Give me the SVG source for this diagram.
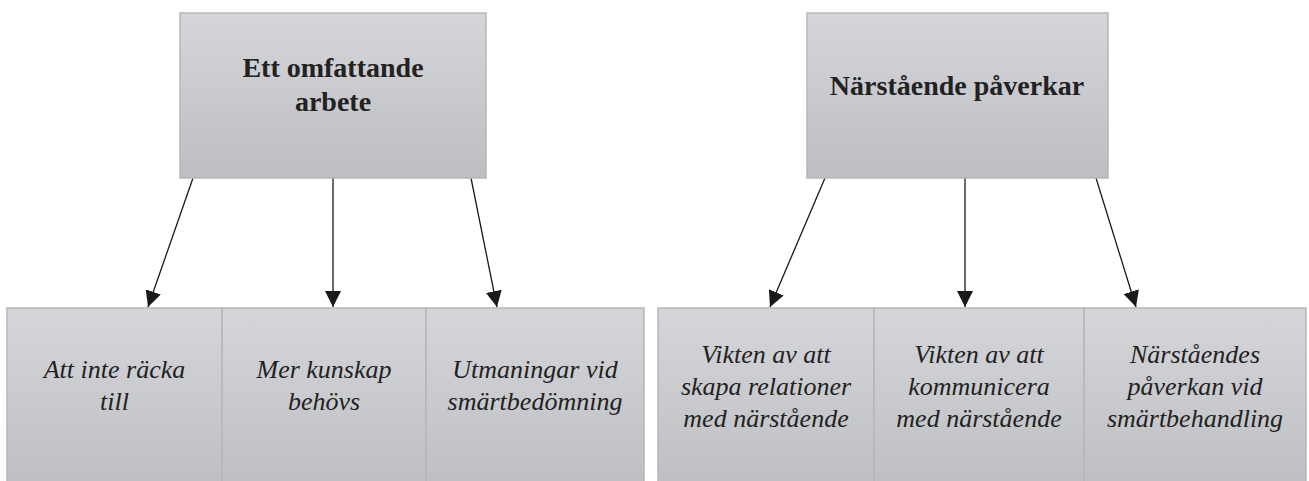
<svg xmlns="http://www.w3.org/2000/svg" width="1309" height="481" viewBox="0 0 1309 481">
<defs>
<linearGradient id="g" x1="0" y1="0" x2="0" y2="1">
<stop offset="0" stop-color="#d5d6d9"/>
<stop offset="1" stop-color="#bdbec1"/>
</linearGradient>
<marker id="ah" viewBox="0 0 10 10" refX="10" refY="5" markerWidth="16" markerHeight="16" markerUnits="userSpaceOnUse" orient="auto">
<path d="M0,0 L10,5 L0,10 z" fill="#1a1a1a"/>
</marker>
</defs>
<g id="connectors" stroke="#1a1a1a" stroke-width="1.3" fill="none" marker-end="url(#ah)">
<line x1="193" y1="178" x2="148" y2="307"/>
<line x1="333" y1="178" x2="333" y2="307"/>
<line x1="471" y1="178" x2="497" y2="307"/>
<line x1="825" y1="178" x2="770" y2="307"/>
<line x1="965" y1="178" x2="965" y2="307"/>
<line x1="1096" y1="178" x2="1136" y2="307"/>
</g>
<g fill="url(#g)" stroke="#b5b6b8" stroke-width="1.5">
<rect id="n1" x="180" y="13" width="306" height="165"/>
<rect id="n2" x="807" y="13" width="301" height="165"/>
<rect id="n3" x="7" y="308" width="215" height="185"/>
<rect id="n4" x="222" y="308" width="204" height="185"/>
<rect id="n5" x="426" y="308" width="218" height="185"/>
<rect id="n6" x="658" y="308" width="216" height="185"/>
<rect id="n7" x="874" y="308" width="210" height="185"/>
<rect id="n8" x="1084" y="308" width="222" height="185"/>
</g>
<text x="333" y="77" font-family="Times New Roman, Liberation Serif, serif" font-size="28" font-weight="bold" fill="#222" text-anchor="middle">Ett omfattande</text>
<text x="333" y="111" font-family="Times New Roman, Liberation Serif, serif" font-size="28" font-weight="bold" fill="#222" text-anchor="middle">arbete</text>
<text x="957" y="95" font-family="Times New Roman, Liberation Serif, serif" font-size="28" font-weight="bold" fill="#222" text-anchor="middle">N&#228;rst&#229;ende p&#229;verkar</text>
<text x="114.5" y="378" font-family="Times New Roman, Liberation Serif, serif" font-size="26" font-style="italic" fill="#222" text-anchor="middle">Att inte r&#228;cka</text>
<text x="114.5" y="410" font-family="Times New Roman, Liberation Serif, serif" font-size="26" font-style="italic" fill="#222" text-anchor="middle">till</text>
<text x="324" y="378" font-family="Times New Roman, Liberation Serif, serif" font-size="26" font-style="italic" fill="#222" text-anchor="middle">Mer kunskap</text>
<text x="324" y="410" font-family="Times New Roman, Liberation Serif, serif" font-size="26" font-style="italic" fill="#222" text-anchor="middle">beh&#246;vs</text>
<text x="535" y="378" font-family="Times New Roman, Liberation Serif, serif" font-size="26" font-style="italic" fill="#222" text-anchor="middle">Utmaningar vid</text>
<text x="535" y="410" font-family="Times New Roman, Liberation Serif, serif" font-size="26" font-style="italic" fill="#222" text-anchor="middle">sm&#228;rtbed&#246;mning</text>
<text x="766" y="363" font-family="Times New Roman, Liberation Serif, serif" font-size="26" font-style="italic" fill="#222" text-anchor="middle">Vikten av att</text>
<text x="766" y="395" font-family="Times New Roman, Liberation Serif, serif" font-size="26" font-style="italic" fill="#222" text-anchor="middle">skapa relationer</text>
<text x="766" y="427" font-family="Times New Roman, Liberation Serif, serif" font-size="26" font-style="italic" fill="#222" text-anchor="middle">med n&#228;rst&#229;ende</text>
<text x="979" y="363" font-family="Times New Roman, Liberation Serif, serif" font-size="26" font-style="italic" fill="#222" text-anchor="middle">Vikten av att</text>
<text x="979" y="395" font-family="Times New Roman, Liberation Serif, serif" font-size="26" font-style="italic" fill="#222" text-anchor="middle">kommunicera</text>
<text x="979" y="427" font-family="Times New Roman, Liberation Serif, serif" font-size="26" font-style="italic" fill="#222" text-anchor="middle">med n&#228;rst&#229;ende</text>
<text x="1195" y="363" font-family="Times New Roman, Liberation Serif, serif" font-size="26" font-style="italic" fill="#222" text-anchor="middle">N&#228;rst&#229;endes</text>
<text x="1195" y="395" font-family="Times New Roman, Liberation Serif, serif" font-size="26" font-style="italic" fill="#222" text-anchor="middle">p&#229;verkan vid</text>
<text x="1195" y="427" font-family="Times New Roman, Liberation Serif, serif" font-size="26" font-style="italic" fill="#222" text-anchor="middle">sm&#228;rtbehandling</text>
</svg>
